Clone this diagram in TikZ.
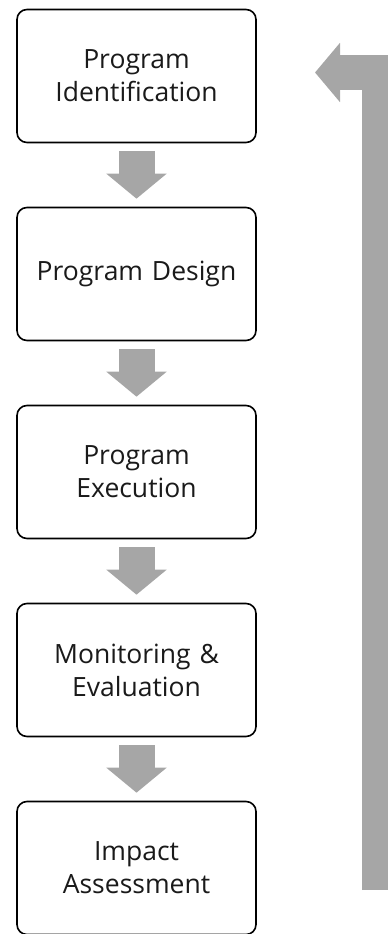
\documentclass[tikz,border=0pt]{standalone}
\usepackage{fontspec}
\setmainfont{Open Sans}
\usepackage{tikz}
\usetikzlibrary{shapes,arrows.meta}
\definecolor{arrowgray}{HTML}{A6A6A6}
\definecolor{textgray}{HTML}{1A1A1A}
\tikzstyle{stage} = [rectangle, draw, line width=1.6pt, fill=white, text centered, rounded corners=10pt, minimum
height=133pt, minimum width=239pt, text width=225pt, font=\fontsize{26.5}{33}\selectfont, text=textgray]
\tikzstyle{flow} = [draw=arrowgray, line width=36pt, -{Triangle[width=59pt,length=25pt]}, shorten <=8pt,
shorten >=8pt]
\tikzstyle{feedback} = [draw=arrowgray, line width=35pt, line join=miter, -{Triangle[width=58pt,length=25pt]}]

\begin{document}
\begin{tikzpicture}[node distance=198pt, auto]
		\useasboundingbox (0,0) rectangle (388pt,-934pt);
		\clip (0,0) rectangle (388pt,-934pt);
		\node [stage] at (136.5pt,-76pt) (ident) {Program\\Identification};
		\node [stage, below of=ident] (design) {Program Design};
		\node [stage, below of=design] (exec) {Program\\Execution};
		\node [stage, below of=exec] (monitor) {Monitoring \&\\Evaluation};
		\node [stage, below of=monitor] (impact) {Impact\\Assessment};
		\coordinate (loopfoot) at (379.5pt,-890pt);
		\coordinate (looptip) at (315pt,-72.5pt);
		\path [flow] (ident) -- (design);
		\path [flow] (design) -- (exec);
		\path [flow] (exec) -- (monitor);
		\path [flow] (monitor) -- (impact);
		\path [feedback] (loopfoot) |- (looptip);
	\end{tikzpicture}
\end{document}
